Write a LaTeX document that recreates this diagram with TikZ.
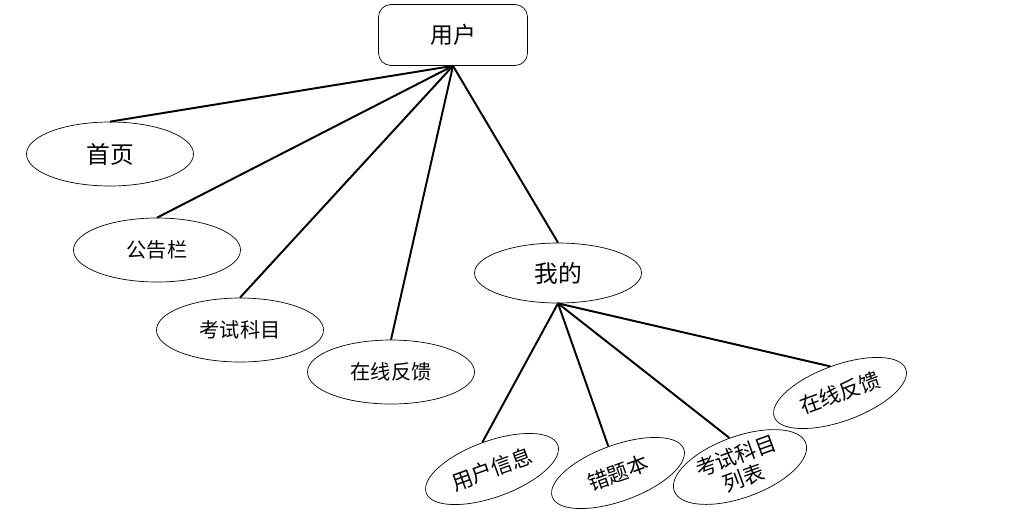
\documentclass[tikz,border=0pt]{standalone}
\usepackage{fontspec}
\newfontfamily\cjk{Noto Sans CJK SC}
\usetikzlibrary{shapes.geometric}

\begin{document}
\begin{tikzpicture}
\tikzset{
  line/.style={
    draw,
    line width=1.1pt
  },
  rootbox/.style={
    draw,
    rounded corners=0.25cm,
    minimum width=2.98cm,
    minimum height=1.22cm,
    font=\cjk\fontsize{13}{15}\selectfont
  },
  oval/.style={
    draw,
    ellipse,
    inner sep=0pt,
    minimum width=3.34cm,
    minimum height=1.28cm,
    font=\cjk\fontsize{11.5}{13}\selectfont
  },
  big/.style={
    font=\cjk\fontsize{13.5}{15}\selectfont
  },
  tilted/.style={
    rotate=20,
    minimum width=2.8cm,
    minimum height=1.12cm,
    font=\cjk\fontsize{12}{13.5}\selectfont
  }
}

\useasboundingbox (0,0) rectangle (20.36,-10.56);

% Root
\node (user) [rootbox] at (9.06,-0.70) {用户};

% First level
\node (home) [oval, big] at (2.20,-3.08) {首页};
\node (notice) [oval] at (3.14,-5.00) {公告栏};
\node (subject) [oval] at (4.80,-6.60) {考试科目};
\node (feedback) [oval] at (7.82,-7.44) {在线反馈};
\node (mine) [oval, big, minimum height=1.2cm] at (11.16,-5.46) {我的};

% Second level
\node (info) [oval, tilted] at (9.84,-9.38) {用户信息};
\node (wrong) [oval, tilted] at (12.36,-9.46) {错题本};
\node (sublist) [oval, tilted, align=center] at (14.80,-9.34) {考试科目\\列表};
\node (minefeed) [oval, tilted] at (16.80,-7.86) {在线反馈};

\draw[line] (user.south) -- (home.north);
\draw[line] (user.south) -- (notice.north);
\draw[line] (user.south) -- (subject.north);
\draw[line] (user.south) -- (feedback.north);
\draw[line] (user.south) -- (mine.north);

\draw[line] (mine.south) -- (info.north);
\draw[line] (mine.south) -- (wrong.north);
\draw[line] (mine.south) -- (sublist.north);
\draw[line] (mine.south) -- (minefeed.north);

\end{tikzpicture}
\end{document}
